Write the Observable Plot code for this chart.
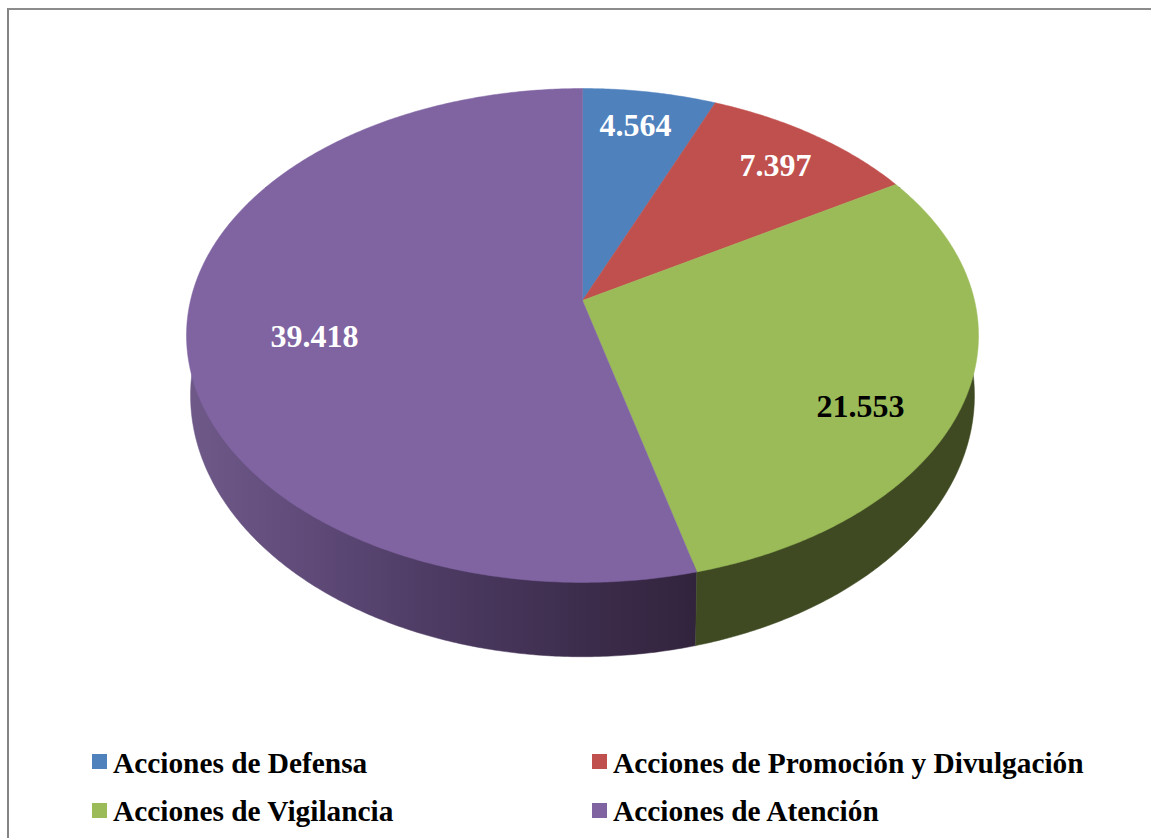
<!DOCTYPE html>
<html lang="es">
<head>
<meta charset="utf-8">
<script src="https://cdn.jsdelivr.net/npm/d3@7"></script>
<script src="https://cdn.jsdelivr.net/npm/@observablehq/plot@0.6"></script>
<style>
  html, body { margin: 0; padding: 0; background: #fff; overflow: hidden; }
  #page { position: relative; width: 1151px; height: 838px; overflow: hidden; font-family: "Liberation Serif", serif; }
  #frame { position: absolute; left: 7px; top: 8px; width: 1200px; height: 900px; border-left: 2px solid #848484; border-top: 2px solid #8c8c8c; box-sizing: border-box; }
  #chart { position: absolute; left: 0; top: 0; }
  #chart svg { display: block; background: transparent; }
  .leg { position: absolute; font-weight: bold; font-size: 29.35px; line-height: 34px; color: #000; white-space: nowrap; }
  .sw { position: absolute; width: 15px; height: 15px; }
</style>
</head>
<body>
<div id="page"><div id="frame"></div><div id="chart"></div></div>
<script>
const categories = ["Acciones de Defensa", "Acciones de Promoción y Divulgación", "Acciones de Vigilancia", "Acciones de Atención"];
const values = [4564, 7397, 21553, 39418];
const valueLabels = ["4.564", "7.397", "21.553", "39.418"];
const sliceColors = ["#4f81bd", "#c0504d", "#9bbb59", "#8064a2"];
const labelColors = ["#ffffff", "#ffffff", "#000000", "#ffffff"];
// label placement on the disc: radius (fraction) and bearing (degrees clockwise from top)
const labelRadius = [0.82, 0.808, 0.785, 0.685];
const labelBearing = [10.6, 41.4, 121.7, 257.7];

const W = 1151, H = 740, APEX_X = 582, APEX_Y = 300;
const K = 0.1416;
const TOP_DISC = { f: 392, g: 242, drop: 0 };
const LOWER_DISC = { f: 388, g: 256, drop: 58 };

const rad = d => d * Math.PI / 180;
// Perspective view of a point on the unit disc
function project(r, deg, disc = TOP_DISC) {
  const X = r * Math.sin(rad(deg)), Y = r * Math.cos(rad(deg));
  const d = 1 + K * Y;
  return { x: disc.f * X / d, y: disc.drop - disc.g * Y / d };
}
function arc(a, b, disc = TOP_DISC, r = 1) {
  const n = Math.max(2, Math.ceil(Math.abs(b - a) * 2));
  return d3.range(n + 1).map(i => project(r, a + (b - a) * i / n, disc));
}

const total = d3.sum(values);
const cum = d3.cumsum(values);
const ends = Array.from(cum, c => c / total * 360);
const starts = [0, ...ends.slice(0, -1)];

const topSlices = values.map((_, i) => [{ x: 0, y: 0 }, ...arc(starts[i], ends[i]), { x: 0, y: 0 }]);
// Side wall: its upper edge runs just under the top disc so no dark fringe shows along the rim
const wall = (a, b) => [project(1, a), ...arc(a, b, TOP_DISC, 0.97), project(1, b), ...arc(b, a, LOWER_DISC)];
const greenWall = wall(60, ends[2]);
const purpleWall = wall(ends[2], 300);

const labels = values.map((_, i) => ({ ...project(labelRadius[i], labelBearing[i]), text: valueLabels[i], color: labelColors[i] }));

function gradientDefs() {
  const ns = "http://www.w3.org/2000/svg";
  const defs = document.createElementNS(ns, "defs");
  const g = document.createElementNS(ns, "linearGradient");
  g.setAttribute("id", "purpleSide");
  [[0, "#6e5989"], [0.25, "#5e4977"], [0.5, "#4c3a62"], [0.75, "#3e2e4e"], [1, "#32233d"]].forEach(([o, c]) => {
    const s = document.createElementNS(ns, "stop");
    s.setAttribute("offset", o);
    s.setAttribute("stop-color", c);
    g.appendChild(s);
  });
  defs.appendChild(g);
  return defs;
}

const poly = (pts, color, sw = 0.5) => Plot.line(pts, { x: "x", y: "y", fill: color, stroke: color, strokeWidth: sw, curve: "linear-closed" });

const chart = Plot.plot({
  width: W, height: H, margin: 0,
  x: { domain: [-APEX_X, W - APEX_X], range: [0, W], axis: null },
  y: { domain: [-APEX_Y, H - APEX_Y], range: [0, H], axis: null },
  style: { background: "transparent" },
  marks: [
    gradientDefs,
    poly(purpleWall, "url(#purpleSide)"),
    poly(greenWall, "#3f4a22"),
    ...topSlices.map((s, i) => poly(s, sliceColors[i])),
    Plot.text(labels, {
      x: "x", y: "y", text: "text", fill: "color",
      fontFamily: "Liberation Serif", fontWeight: "bold", fontSize: 32,
      textAnchor: "middle"
    })
  ]
});
document.getElementById("chart").appendChild(chart);

// Legend
const legendCols = [92, 592];
const legendRows = [754, 803];
const legendTextTop = [746, 794];
const page = document.getElementById("page");
categories.forEach((c, i) => {
  const col = i % 2, row = Math.floor(i / 2);
  const sw = document.createElement("div");
  sw.className = "sw";
  sw.style.left = legendCols[col] + "px";
  sw.style.top = legendRows[row] + "px";
  sw.style.background = sliceColors[i];
  page.appendChild(sw);
  const t = document.createElement("div");
  t.className = "leg";
  t.textContent = c;
  t.style.left = (legendCols[col] + 21) + "px";
  t.style.top = legendTextTop[row] + "px";
  page.appendChild(t);
});
</script>
</body>
</html>
